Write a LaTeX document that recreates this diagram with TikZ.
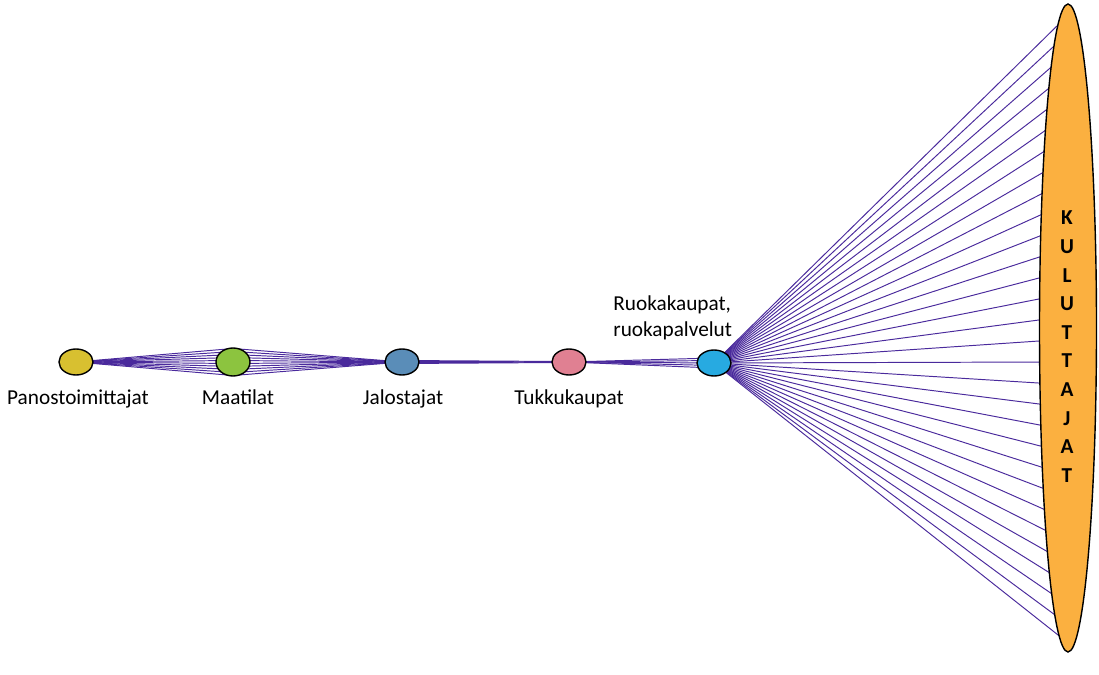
\documentclass[tikz,border=0pt]{standalone}
\usepackage{fontspec}
\setmainfont{Carlito}
\usetikzlibrary{calc,shapes.geometric,backgrounds}
\definecolor{linec}{HTML}{4A2A9C}
\definecolor{cyel}{HTML}{D8C030}
\definecolor{cgrn}{HTML}{8CC43F}
\definecolor{cblu}{HTML}{5A8DB8}
\definecolor{cpnk}{HTML}{E08092}
\definecolor{ccya}{HTML}{27AAE1}
\definecolor{corg}{HTML}{FBB040}
\tikzset{
  actor/.style={ellipse, draw=black, line width=0.8pt, minimum width=34*0.02cm, minimum height=26*0.02cm, inner sep=0pt},
  lbl/.style={font=\fontsize{12.1}{14.5}\selectfont, inner sep=0pt, anchor=base},
  flow/.style={draw=linec, line width=0.55pt},
  big/.style={font=\fontsize{12.1}{14.5}\selectfont\bfseries, inner sep=0pt, anchor=base}
}
\begin{document}
\begin{tikzpicture}[x=0.02cm,y=-0.02cm]
\useasboundingbox (0,0) rectangle (1099,675);
\node[actor, fill=cyel] (panos) at (76,362) {};
\node[actor, fill=cgrn, minimum height=28*0.02cm] (maa) at (233,362) {};
\node[actor, fill=cblu] (jalo) at (402,362) {};
\node[actor, fill=cpnk] (tukku) at (569,362) {};
\node[actor, fill=ccya] (ruoka) at (714,363) {};
\node[ellipse, draw=black, line width=0.8pt, fill=corg, minimum width=57*0.02cm, minimum height=648*0.02cm, inner sep=0pt] (kul) at (1068,328) {};
\node[lbl] (lpanos) at (78,405) {Panostoimittajat};
\node[lbl] (lmaa) at (238,405) {Maatilat};
\node[lbl] (ljalo) at (403,405) {Jalostajat};
\node[lbl] (ltukku) at (569,405) {Tukkukaupat};
\node[lbl, anchor=base west] (lruoka1) at (613,311) {Ruokakaupat,};
\node[lbl, anchor=base west] (lruoka2) at (613,337) {ruokapalvelut};
\foreach \l [count=\i from 0] in {K,U,L,U,T,T,A,J,A,T}
  \node[big] (k\i) at (1067,{225+28.6*\i}) {\l};
\begin{pgfonlayer}{background}
  \foreach \d in {-13.5,-10.5,...,13.6}
    \draw[flow] (panos.center) -- ($(maa.center)+(0,\d)$) -- (jalo.center);
  \foreach \d in {-1.5,-0.5,0.5,1.5}
    \draw[flow] ($(jalo.center)+(0,\d)$) -- ($(tukku.center)+(0,0.3*\d)$);
  \foreach \d in {-5,-2.5,0,2.5,5}
    \draw[flow] (tukku.center) -- ($(ruoka.center)+(0,\d)$);
  \foreach \t in {-0.935,-0.87,...,1.0}
    \draw[flow] (ruoka.center) -- ($(kul.center)+({-28.5*sqrt(1-\t*\t)},{324*\t})$);
\end{pgfonlayer}
\end{tikzpicture}
\end{document}
